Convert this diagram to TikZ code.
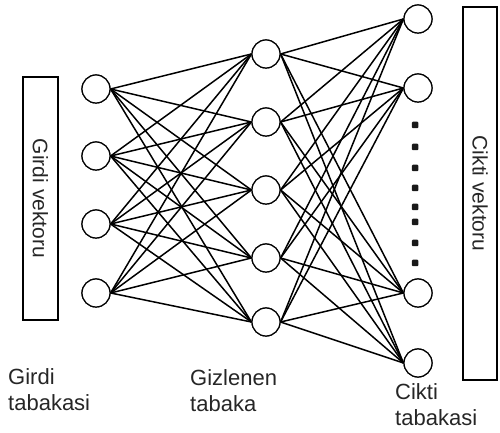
\documentclass[tikz,border=0pt]{standalone}
\usepackage{fontspec}
\setmainfont{Liberation Sans}
\begin{document}
\begin{tikzpicture}[x=1pt,y=1pt,
  neuron/.style={circle,draw=black,line width=1.2pt,minimum size=28pt,inner sep=0pt,fill=white},
  conn/.style={line width=1.5pt,black},
  vecbox/.style={draw=black,line width=1.2pt,inner sep=0pt},
  lbl/.style={font=\fontsize{22}{26}\selectfont,text=black!85,align=left,inner sep=0pt,anchor=north west},
  vlbl/.style={font=\fontsize{21}{25}\selectfont,text=black!85,rotate=-90,inner sep=0pt},
  dotm/.style={fill=black!90,minimum size=6.5pt,inner sep=0pt,rounded corners=1pt}]
\useasboundingbox (0,0) rectangle (500,433);
% input nodes
\foreach \i/\y in {1/89,2/156,3/224,4/293}
  \node[neuron] (i\i) at (96,433-\y) {};
% hidden nodes
\foreach \i/\y in {1/54,2/122,3/190,4/258,5/322}
  \node[neuron] (h\i) at (266,433-\y) {};
% output nodes
\foreach \i/\y in {1/19,2/88,3/293,4/363}
  \node[neuron] (o\i) at (418,433-\y) {};
% connections
\foreach \a in {1,...,4}
  \foreach \b in {1,...,5}
    \draw[conn] (i\a.east) -- (h\b.west);
\foreach \a in {1,...,5}
  \foreach \b in {1,...,4}
    \draw[conn] (h\a.east) -- (o\b.west);
% redraw circles on top
\foreach \i in {1,...,4} \draw[line width=1.2pt,fill=white] (i\i) circle (14pt);
\foreach \i in {1,...,5} \draw[line width=1.2pt,fill=white] (h\i) circle (14pt);
\foreach \i in {1,...,4} \draw[line width=1.2pt,fill=white] (o\i) circle (14pt);
% dots
\foreach \j/\y in {a/125,b/147,c/168,d/188,e/207,f/222,g/243,h/263}
  \node[dotm] (d\j) at (415,433-\y) {};
% vector boxes
\node[vecbox,minimum width=35pt,minimum height=243pt] (ib) at (40.5,433-198.5) {};
\node[vlbl] (ibt) at (ib.center) {Girdi vektoru};
\node[vecbox,minimum width=34pt,minimum height=373pt] (ob) at (480,433-193.5) {};
\node[vlbl] (obt) at (ob.center) {Cikti vektoru};
% layer labels
\node[lbl] (l1) at (8,433-368) {Girdi\\tabakasi};
\node[lbl] (l2) at (190,433-369) {Gizlenen\\tabaka};
\node[lbl] (l3) at (395,433-383) {Cikti\\tabakasi};
\end{tikzpicture}
\end{document}
